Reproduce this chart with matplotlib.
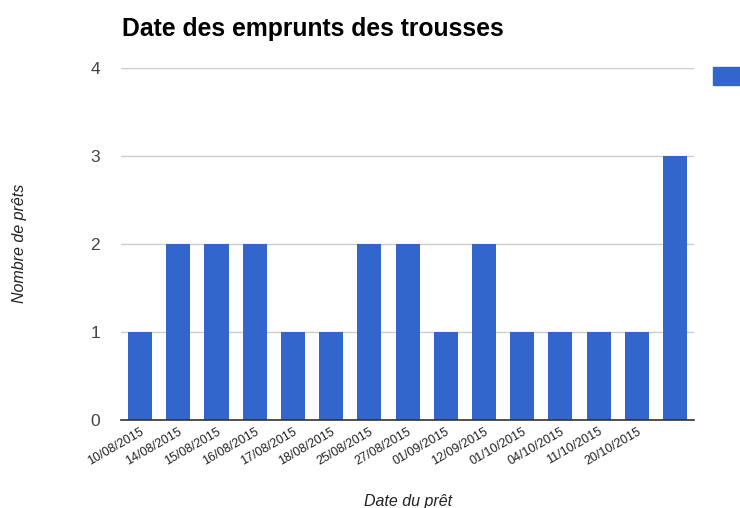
import matplotlib
matplotlib.use("Agg")
import matplotlib.pyplot as plt
from matplotlib.patches import Rectangle

# Data
dates = ["10/08/2015", "14/08/2015", "15/08/2015", "16/08/2015", "17/08/2015",
         "18/08/2015", "25/08/2015", "27/08/2015", "01/09/2015", "12/09/2015",
         "01/10/2015", "04/10/2015", "11/10/2015", "20/10/2015", ""]
prets = [1, 2, 2, 2, 1, 1, 2, 2, 1, 2, 1, 1, 1, 1, 3]

plt.rcParams['font.family'] = ['Liberation Sans', 'DejaVu Sans']

fig = plt.figure(figsize=(7.4, 5.08), dpi=100)
ax = fig.add_axes([0.1635, 0.173, 0.7745, 0.693])

x = list(range(len(prets)))
ax.bar(x, prets, width=0.63, color='#3366cc', zorder=3)

ax.set_xlim(-0.5, len(prets) - 0.5)
ax.set_ylim(0, 4)
ax.set_yticks([0, 1, 2, 3, 4])
ax.yaxis.grid(True, color='#cccccc', linewidth=1, zorder=0)
ax.tick_params(axis='y', length=0, pad=15, labelsize=12.5, labelcolor='#444444')
ax.tick_params(axis='x', length=0, pad=4)
ax.set_xticks(x)
ax.set_xticklabels(dates, rotation=30, ha='right', rotation_mode='anchor',
                   fontsize=9, color='#222222')

for s in ['top', 'right', 'left']:
    ax.spines[s].set_visible(False)
ax.spines['bottom'].set_color('#333333')
ax.spines['bottom'].set_linewidth(1.2)
ax.spines['bottom'].set_zorder(4)

fig.text(0.165, 0.943, "Date des emprunts des trousses", fontsize=17.8,
         fontweight='bold', ha='left', va='center')
fig.text(0.026, 0.52, "Nombre de prêts", fontsize=11.5, style='italic',
         rotation=90, ha='center', va='center', color='#222222')
fig.text(0.551, 0.012, "Date du prêt", fontsize=11.5, style='italic',
         ha='center', va='center', color='#222222')

# legend marker, cut off at the right edge in the original
fig.patches.append(Rectangle((713 / 740, 1 - 85 / 508), 30 / 740, 18 / 508,
                             transform=fig.transFigure, color='#3366cc'))

fig.savefig("out.png", dpi=100)
